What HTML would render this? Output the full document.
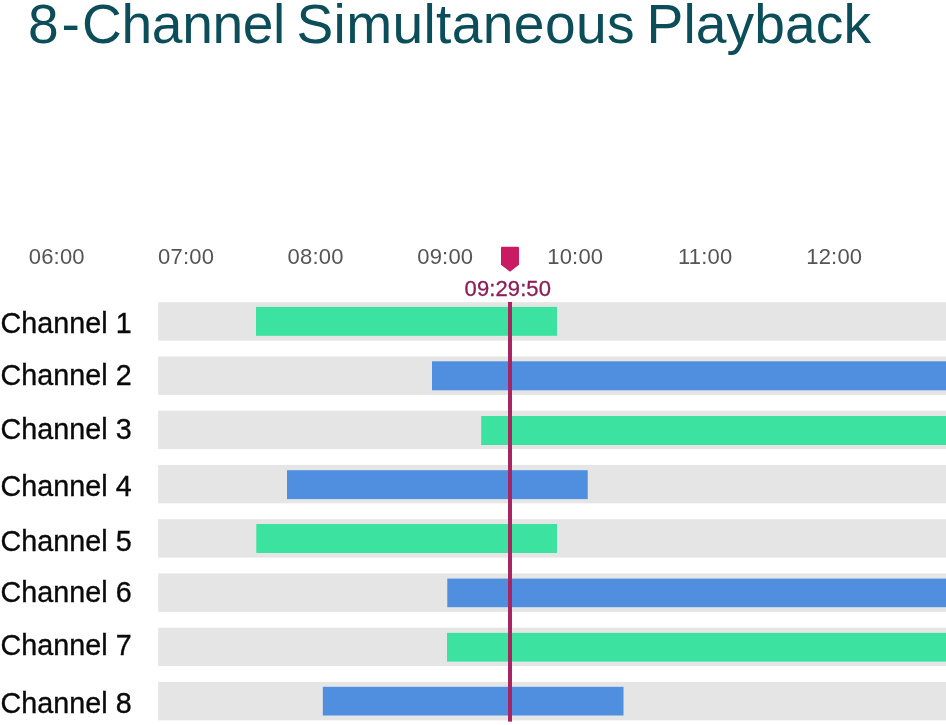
<!DOCTYPE html>
<html lang="en">
<head>
<meta charset="utf-8">
<title>8-Channel Simultaneous Playback</title>
<style>
html,body{margin:0;padding:0;background:#fff;}
body{width:946px;height:725px;position:relative;overflow:hidden;font-family:"Liberation Sans",sans-serif;}
svg{position:absolute;left:0;top:0;display:block;}
text{font-family:"Liberation Sans",sans-serif;}
.title{font-size:55.15px;fill:#0b4e59;}
.tick{font-size:22px;fill:#555;text-anchor:middle;letter-spacing:0.2px;}
.cur{font-size:22px;fill:#8c1d56;stroke:#8c1d56;stroke-width:0.3px;text-anchor:middle;letter-spacing:0.1px;}
.label{font-size:28.7px;letter-spacing:0.05px;fill:#0a0a0a;stroke:#0a0a0a;stroke-width:0.35px;}
</style>
</head>
<body>
<svg width="946" height="725" viewBox="0 0 946 725">
<text class="title" y="42.6"><tspan x="27.9">8</tspan><tspan x="61.4">-</tspan><tspan x="82" letter-spacing="-0.34">Channel </tspan><tspan x="296.45" letter-spacing="0.36">Simultaneous </tspan><tspan x="646.5" letter-spacing="0.11">Playback</tspan></text>
<text class="tick" x="56.75" y="264">06:00</text>
<text class="tick" x="186.15" y="264">07:00</text>
<text class="tick" x="315.55" y="264">08:00</text>
<text class="tick" x="445.25" y="264">09:00</text>
<text class="tick" x="575.25" y="264">10:00</text>
<text class="tick" x="705.25" y="264">11:00</text>
<text class="tick" x="834.25" y="264">12:00</text>
<path d="M502 246.7 H518 Q519 246.7 519 247.7 V264.8 L510 271.8 L501 264.8 V247.7 Q501 246.7 502 246.7 Z" fill="#c91a62"/>
<text class="cur" x="507.8" y="296">09:29:50</text>
<rect x="158.2" y="302.20" width="788" height="38.4" fill="#e5e5e5"/>
<rect x="158.2" y="356.45" width="788" height="38.4" fill="#e5e5e5"/>
<rect x="158.2" y="410.70" width="788" height="38.4" fill="#e5e5e5"/>
<rect x="158.2" y="464.95" width="788" height="38.4" fill="#e5e5e5"/>
<rect x="158.2" y="519.20" width="788" height="38.4" fill="#e5e5e5"/>
<rect x="158.2" y="573.45" width="788" height="38.4" fill="#e5e5e5"/>
<rect x="158.2" y="627.70" width="788" height="38.4" fill="#e5e5e5"/>
<rect x="158.2" y="681.95" width="788" height="38.4" fill="#e5e5e5"/>
<rect x="256" y="306.9" width="301.0" height="28.9" fill="#3be2a0"/>
<rect x="432" y="361.3" width="514.0" height="29.0" fill="#508fe0"/>
<rect x="481.2" y="416" width="464.8" height="29.0" fill="#3be2a0"/>
<rect x="287" y="470.2" width="300.7" height="28.9" fill="#508fe0"/>
<rect x="256.3" y="524" width="300.7" height="29.0" fill="#3be2a0"/>
<rect x="447.3" y="578.6" width="498.7" height="28.6" fill="#508fe0"/>
<rect x="447" y="632.9" width="499.0" height="28.7" fill="#3be2a0"/>
<rect x="322.8" y="686.8" width="300.7" height="28.7" fill="#508fe0"/>
<rect x="508" y="302" width="4" height="419.6" fill="#a82561"/>
<text class="label" x="0.5" y="333">Channel 1</text>
<text class="label" x="0.5" y="385">Channel 2</text>
<text class="label" x="0.5" y="439">Channel 3</text>
<text class="label" x="0.5" y="496">Channel 4</text>
<text class="label" x="0.5" y="551">Channel 5</text>
<text class="label" x="0.5" y="602">Channel 6</text>
<text class="label" x="0.5" y="655">Channel 7</text>
<text class="label" x="0.5" y="713">Channel 8</text>
</svg>
</body>
</html>
